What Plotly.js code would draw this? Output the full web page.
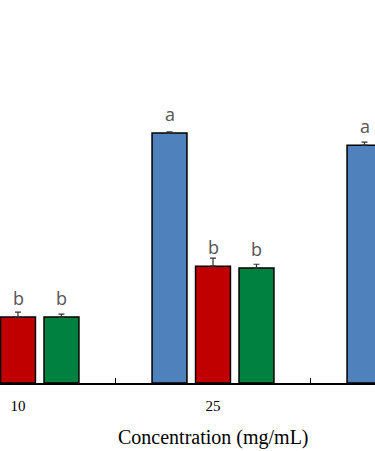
<!DOCTYPE html>
<html>
<head>
<meta charset="utf-8">
<script src="https://cdn.plot.ly/plotly-3.0.1.min.js"></script>
<style>html,body{margin:0;padding:0;background:#fff;}#chart{width:375px;height:451px;}</style>
</head>
<body>
<div id="chart"></div>
<script>
// Data (bars outside the visible crop are estimates)
var concentrations = ['10', '25', '50'];
var positions = [0, 1, 2];
var blueValues = [55.0, 65.3, 62.1];
var blueErrors = [0.8, 0.3, 0.8];
var blueLetters = ['a', 'a', 'a'];
var redValues = [17.2, 30.5, 35.0];
var redErrors = [1.3, 2.1, 1.0];
var redLetters = ['b', 'b', 'b'];
var greenValues = [17.2, 30.0, 33.0];
var greenErrors = [0.8, 1.0, 1.0];
var greenLetters = ['b', 'b', 'b'];
var betweenTicks = [0.5, 1.5];

var bargap = 0.331, bargroupgap = 0.197;
var slot = (1 - bargap) / 3;

function barTrace(vals, errs, color, name) {
  return {
    type: 'bar', x: positions, y: vals, name: name,
    marker: {color: color, line: {color: '#000', width: 1.5}},
    error_y: {type: 'data', array: errs, arrayminus: errs.map(function () { return 0; }),
      symmetric: false, visible: true, color: '#333', thickness: 1.2, width: 3}
  };
}
var traces = [
  barTrace(blueValues, blueErrors, '#4F81BD', 'A'),
  barTrace(redValues, redErrors, '#C00000', 'B'),
  barTrace(greenValues, greenErrors, '#00813F', 'C')
];

var annotations = [];
[[blueValues, blueLetters], [redValues, redLetters], [greenValues, greenLetters]].forEach(function (s, k) {
  positions.forEach(function (p, i) {
    annotations.push({
      x: p + (k - 1) * slot, y: s[0][i], xref: 'x', yref: 'y',
      text: s[1][i], showarrow: false, yanchor: 'bottom', yshift: 5,
      font: {family: 'Open Sans, sans-serif', size: 18, color: '#555555'}
    });
  });
});
annotations.push({
  x: positions[1], xref: 'x', y: 0, yref: 'paper', yanchor: 'top', yshift: -41,
  text: 'Concentration (mg/mL)', showarrow: false,
  font: {family: 'Liberation Serif, Times New Roman, serif', size: 20, color: '#000'}
});

var xr = [-0.0923, 1.8308];
var layout = {
  width: 375, height: 451,
  margin: {l: 0, r: 0, t: 0, b: 68},
  paper_bgcolor: '#fff', plot_bgcolor: '#fff',
  showlegend: false,
  barmode: 'group', bargap: bargap, bargroupgap: bargroupgap,
  xaxis: {
    range: xr, tickvals: positions, ticktext: concentrations, ticks: '',
    showline: true, linecolor: '#000', linewidth: 1.5, showgrid: false, zeroline: false,
    ticklabelstandoff: 8,
    tickfont: {family: 'Liberation Serif, Times New Roman, serif', size: 15, color: '#000'}
  },
  xaxis2: {
    overlaying: 'x', range: xr, tickvals: betweenTicks, ticks: 'inside', ticklen: 5,
    tickwidth: 1.2, tickcolor: '#000', showticklabels: false, showline: false,
    showgrid: false, zeroline: false, side: 'bottom'
  },
  yaxis: {range: [0, 100], visible: false, showgrid: false, zeroline: false},
  annotations: annotations
};
traces.push({type: 'scatter', x: [], y: [], xaxis: 'x2', hoverinfo: 'skip'});
Plotly.newPlot('chart', traces, layout, {staticPlot: true});
</script>
</body>
</html>
